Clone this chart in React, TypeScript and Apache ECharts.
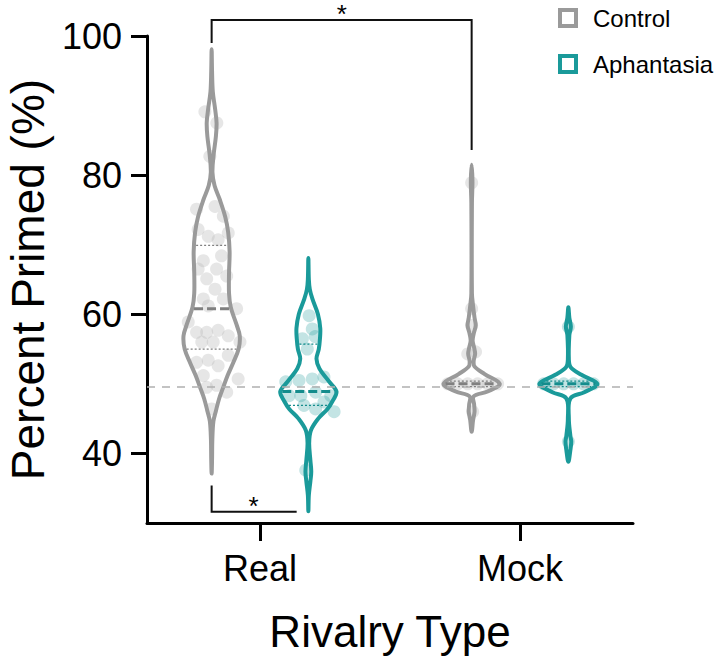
import React, { useEffect, useRef } from "react";
import * as echarts from "echarts";

const rivalryTypes = ["Real", "Mock"];
const groups = ["Control", "Aphantasia"];
const yTicks = [40, 60, 80, 100];
const chanceLevel = 49.6;

// Violin outlines: [percent primed, relative density (half width)]
const realControlProfile = [
  [98.1, 0], [95, 0.014], [92, 0.04], [89.5, 0.12], [87.5, 0.17], [85.5, 0.145], [83, 0.07],
  [80.4, 0.028], [78.5, 0.1], [76.5, 0.28], [74, 0.47], [71.8, 0.57], [69, 0.62], [66, 0.6],
  [63, 0.6], [61, 0.66], [58.5, 0.86], [56.9, 0.97], [55, 0.93], [53, 0.74], [51.2, 0.55],
  [49.5, 0.4], [47.9, 0.26], [46, 0.14], [44.6, 0.06], [42, 0.024], [39, 0.014], [37.1, 0],
];
const realAphantasiaProfile = [
  [68.1, 0], [65, 0.017], [63.6, 0.05], [62.2, 0.14], [60, 0.33], [58, 0.41], [56.5, 0.4],
  [55, 0.36], [53.6, 0.28], [52.2, 0.38], [50.3, 0.72], [48.9, 0.97], [47.5, 0.83], [46.4, 0.66],
  [45, 0.34], [43.3, 0.086], [41.5, 0.028], [39, 0.07], [37.4, 0.1], [36, 0.07], [34, 0.017], [31.7, 0],
];
const mockControlProfile = [
  [81.5, 0], [79, 0.028], [76, 0.01], [63, 0.01], [61.2, 0.05], [59.5, 0.1], [58.4, 0.14],
  [57.2, 0.07], [56.2, 0.034], [55.2, 0.086], [54.3, 0.12], [53.3, 0.07], [52.5, 0.1],
  [51.4, 0.45], [50, 0.97], [48.9, 0.55], [48.2, 0.07], [47, 0.086], [46, 0.1], [44.8, 0.05], [43.1, 0],
];
const mockAphantasiaProfile = [
  [61, 0], [59.5, 0.034], [58.2, 0.086], [57, 0.034], [53.5, 0.017], [52.4, 0.08], [51.3, 0.45],
  [50, 1], [48.8, 0.55], [47.9, 0.07], [45, 0.017], [42.5, 0.07], [41.7, 0.1], [40.5, 0.07], [38.8, 0],
];

// Quartiles: [Q1, median, Q3]
const realControlStats = [55.0, 60.8, 69.9];
const realAphantasiaStats = [46.9, 48.9, 55.7];
const mockControlStats = [49.6, 50.0, 50.4];
const mockAphantasiaStats = [49.6, 50.0, 50.4];

// Individual participants: [horizontal jitter, percent primed]
const realControlPoints = [
  [-0.026, 89.1], [0.02, 87.5], [-0.007, 82.7], [-0.058, 75.1], [0.013, 75.5], [0.045, 74.1],
  [-0.052, 72.2], [-0.013, 71.2], [0.025, 70.7], [0.064, 71.7], [-0.032, 67.7], [0.038, 68.4],
  [-0.052, 66.5], [0.019, 66.5], [-0.019, 65.1], [0.058, 65.5], [0.013, 63.6], [-0.032, 62.2],
  [0.045, 62.2], [-0.013, 61.2], [0.096, 60.8], [-0.09, 58.9], [-0.058, 57.4], [-0.019, 57.4],
  [0.025, 57.7], [0.064, 56.9], [0.109, 56.0], [-0.038, 56.0], [0.006, 56.0], [-0.058, 53.1],
  [-0.013, 53.4], [0.025, 52.6], [0.064, 54.1], [-0.032, 51.2], [-0.019, 49.5], [0.019, 49.8],
  [0.102, 50.7], [0.058, 48.8], [0.0, 46.4],
];
const realAphantasiaPoints = [
  [0.003, 59.8], [0.015, 57.9], [-0.023, 56.5], [0.026, 56.8], [-0.004, 55.0], [-0.087, 50.3],
  [-0.036, 50.5], [0.015, 50.7], [0.06, 51.0], [-0.074, 48.3], [-0.029, 48.3], [0.028, 48.8],
  [0.086, 48.3], [-0.017, 46.9], [0.028, 46.4], [0.06, 47.4], [0.099, 46.0], [-0.01, 37.6],
];
const mockControlPoints = [
  [0, 78.9], [0, 60.8], [0, 58.4], [-0.015, 54.3], [0.015, 54.6], [-0.092, 50], [-0.054, 50],
  [-0.015, 50], [0.023, 50], [0.062, 50], [0.1, 50], [0.004, 46.0],
];
const mockAphantasiaPoints = [
  [0, 58.2], [-0.095, 50], [-0.057, 50], [-0.018, 50], [0.02, 50], [0.058, 50], [0.097, 50], [0, 41.7],
];

const GROUP_OFFSET = 0.186;
const sigBrackets = [
  { path: [[1 - GROUP_OFFSET, 99.0], [1 - GROUP_OFFSET, 102.3], [2 - GROUP_OFFSET, 102.3], [2 - GROUP_OFFSET, 83.6]], star: [1.315, 105.0], align: "top" },
  { path: [[1 - GROUP_OFFSET, 35.4], [1 - GROUP_OFFSET, 31.6], [1.141, 31.6]], star: [0.975, 32.4], align: "middle" },
];

const FONT = "'Liberation Sans', Arial, Helvetica, sans-serif";
const GRAY = "#9a9a9a";
const GRAY_DARK = "#808080";
const TEAL = "#1a9a9a";
const TEAL_DARK = "#148c8c";
const MAX_HALF_PX = 29;

function interpHalf(profile: number[][], v: number) {
  for (let i = 0; i < profile.length - 1; i++) {
    const [v1, d1] = profile[i];
    const [v2, d2] = profile[i + 1];
    if (v <= v1 && v >= v2) {
      const t = v1 === v2 ? 0 : (v - v1) / (v2 - v1);
      return (d1 + (d2 - d1) * t) * MAX_HALF_PX;
    }
  }
  return 0;
}

function violinRenderer(profiles: number[][][], stats: number[][], color: string, dark: string, offset: number) {
  return (params: any, api: any) => {
    const idx = params.dataIndex;
    const prof = profiles[idx];
    const st = stats[idx];
    const xc = api.value(0) + offset;
    const left: number[][] = [];
    const right: number[][] = [];
    prof.forEach(([v, d]) => {
      const p = api.coord([xc, v]);
      left.push([p[0] - d * MAX_HALF_PX, p[1]]);
      right.push([p[0] + d * MAX_HALF_PX, p[1]]);
    });
    const pts = [...left, ...right.slice(1, -1).reverse()];
    const children: any[] = [
      {
        type: "polygon",
        shape: { points: pts, smooth: 0.35 },
        style: { fill: "rgba(0,0,0,0)", stroke: color, lineWidth: 4, lineJoin: "round" },
      },
    ];
    st.forEach((v, k) => {
      const hw = Math.max(interpHalf(prof, v) - 2, 0);
      const c = api.coord([xc, v]);
      children.push({
        type: "line",
        shape: { x1: c[0] - hw, y1: c[1], x2: c[0] + hw, y2: c[1] },
        style: k === 1
          ? { stroke: dark, lineWidth: 3, lineDash: [9, 4] }
          : { stroke: dark, lineWidth: 1.3, lineDash: [2, 2] },
      });
    });
    return { type: "group", children };
  };
}

export default function App() {
  const ref = useRef<HTMLDivElement>(null);
  useEffect(() => {
    if (!ref.current) return;
    const chart = echarts.init(ref.current, undefined, { renderer: "svg" });
    const toScatter = (pts: number[][], cat: number, off: number) =>
      pts.map(([j, v]) => [cat + off + j, v]);
    const option: any = {
      animation: false,
      backgroundColor: "#ffffff",
      textStyle: { fontFamily: FONT },
      grid: { left: 147, right: 88, top: 36, bottom: 135, containLabel: false, outerBoundsMode: "none" },
      legend: {
        orient: "vertical",
        left: 558,
        top: 6,
        padding: 0,
        itemWidth: 16,
        itemHeight: 16,
        itemGap: 22,
        icon: "rect",
        selectedMode: false,
        textStyle: { fontSize: 24, color: "#000", fontFamily: FONT, padding: [0, 0, 0, 12] },
        data: [
          { name: groups[0], itemStyle: { color: "rgba(0,0,0,0)", borderColor: GRAY, borderWidth: 4 } },
          { name: groups[1], itemStyle: { color: "rgba(0,0,0,0)", borderColor: TEAL, borderWidth: 4 } },
        ],
      },
      xAxis: {
        type: "value",
        min: 0.5654,
        max: 2.4346,
        axisLine: { show: true, onZero: false, lineStyle: { color: "#000", width: 3 } },
        axisTick: { show: true, customValues: [1, 2], length: 18, lineStyle: { color: "#000", width: 3 } },
        axisLabel: {
          customValues: [1, 2],
          formatter: (v: number) => rivalryTypes[Math.round(v) - 1] || "",
          fontSize: 36,
          color: "#000",
          margin: 27,
          fontFamily: FONT,
        },
        splitLine: { show: false },
        name: "Rivalry Type",
        nameLocation: "middle",
        nameGap: 86,
        nameTextStyle: { fontSize: 44, color: "#000", fontFamily: FONT },
      },
      yAxis: {
        type: "value",
        min: 30,
        max: 100,
        axisLine: { show: true, onZero: false, lineStyle: { color: "#000", width: 3 } },
        axisTick: { show: true, customValues: yTicks, length: 16, lineStyle: { color: "#000", width: 3 } },
        axisLabel: { customValues: yTicks, fontSize: 36, color: "#000", margin: 25, fontFamily: FONT },
        splitLine: { show: false },
        name: "Percent Primed (%)",
        nameLocation: "middle",
        nameRotate: 90,
        nameGap: 95,
        nameTextStyle: { fontSize: 46, color: "#000", fontFamily: FONT },
      },
      series: [
        {
          type: "scatter",
          name: "Control participants",
          symbolSize: 13,
          z: 1,
          itemStyle: { color: "rgba(185,185,185,0.45)" },
          data: [
            ...toScatter(realControlPoints, 1, -GROUP_OFFSET),
            ...toScatter(mockControlPoints, 2, -GROUP_OFFSET),
          ],
          markLine: {
            silent: true,
            symbol: "none",
            label: { show: false },
            lineStyle: { color: "#b0b0b0", type: [8, 7], width: 1.5 },
            data: [{ yAxis: chanceLevel }],
          },
        },
        {
          type: "scatter",
          name: "Aphantasia participants",
          symbolSize: 13,
          z: 1,
          itemStyle: { color: "rgba(26,153,153,0.33)" },
          data: [
            ...toScatter(realAphantasiaPoints, 1, GROUP_OFFSET),
            ...toScatter(mockAphantasiaPoints, 2, GROUP_OFFSET),
          ],
        },
        {
          type: "custom",
          name: groups[0],
          z: 3,
          itemStyle: { color: GRAY },
          renderItem: violinRenderer([realControlProfile, mockControlProfile], [realControlStats, mockControlStats], GRAY, GRAY_DARK, -GROUP_OFFSET),
          data: [[1], [2]],
        },
        {
          type: "custom",
          name: groups[1],
          z: 3,
          itemStyle: { color: TEAL },
          renderItem: violinRenderer([realAphantasiaProfile, mockAphantasiaProfile], [realAphantasiaStats, mockAphantasiaStats], TEAL, TEAL_DARK, GROUP_OFFSET),
          data: [[1], [2]],
        },
        {
          type: "custom",
          name: "significance",
          z: 4,
          renderItem: (params: any, api: any) => {
            const b = sigBrackets[params.dataIndex];
            const pts = b.path.map((p) => api.coord(p));
            const s = api.coord(b.star);
            return {
              type: "group",
              children: [
                { type: "polyline", shape: { points: pts }, style: { stroke: "#111", lineWidth: 2, fill: null } },
                {
                  type: "text",
                  x: s[0],
                  y: s[1],
                  style: { text: "*", fontSize: 26, fontFamily: FONT, fill: "#000", align: "center", verticalAlign: b.align },
                },
              ],
            };
          },
          data: [[0], [1]],
        },
      ],
    };
    chart.setOption(option);
    return () => chart.dispose();
  }, []);
  return (
    <div
      ref={ref}
      style={{ position: "absolute", left: 0, top: 0, width: 721, height: 658 }}
    />
  );
}
